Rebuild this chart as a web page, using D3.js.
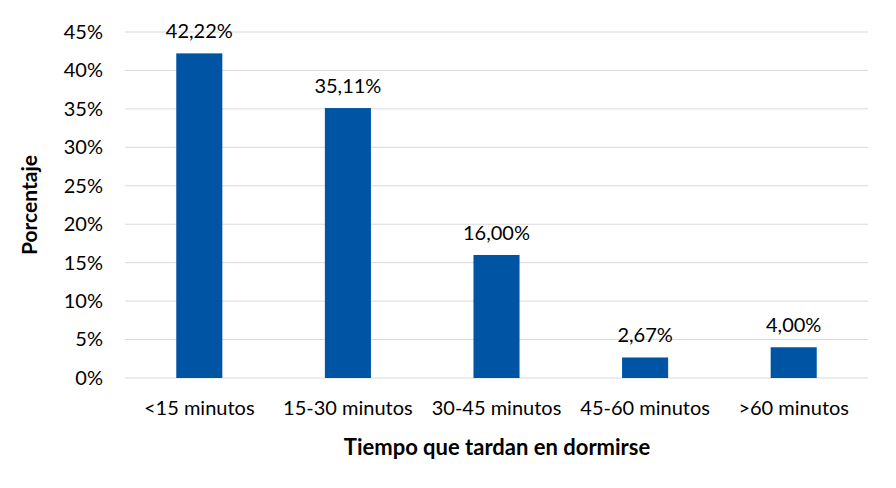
<!DOCTYPE html>
<html><head><meta charset="utf-8">
<script src="https://cdn.jsdelivr.net/npm/d3@7"></script>
<style>body{margin:0;background:#fff}svg{font-family:Lato,"Open Sans",sans-serif}</style>
</head><body><svg id="c" width="896" height="488"></svg>
<script>
const categories = ["<15 minutos","15-30 minutos","30-45 minutos","45-60 minutos",">60 minutos"];
const values = [42.22, 35.11, 16.00, 2.67, 4.00];
const yTicks = [0,5,10,15,20,25,30,35,40,45];
const yTitle = "Porcentaje";
const xTitle = "Tiempo que tardan en dormirse";

const svg = d3.select("#c");
const x = d3.scaleBand().domain(categories).range([125, 868]).paddingInner(0.69).paddingOuter(0.345);
const y = d3.scaleLinear().domain([0,45]).range([378, 32]);
const fmt = v => v.toFixed(2).replace(".", ",") + "%";
const ff = "Lato,'Open Sans',sans-serif";

svg.append("g").selectAll("line").data(yTicks).join("line")
  .attr("x1",125).attr("x2",868).attr("y1",d=>y(d)).attr("y2",d=>y(d))
  .attr("stroke","#d9d9d9").attr("stroke-width",1);

const yAxis = svg.append("g").attr("transform","translate(125,0)")
  .call(d3.axisLeft(y).tickValues(yTicks).tickFormat(d=>d+"%").tickSize(0).tickPadding(22));
yAxis.select(".domain").remove();
yAxis.selectAll("text").attr("font-size",20).attr("fill","#000").style("font-family",ff);

svg.append("g").selectAll("rect").data(values).join("rect")
  .attr("x",(d,i)=>x(categories[i])).attr("width",x.bandwidth())
  .attr("y",d=>y(d)).attr("height",d=>y(0)-y(d)).attr("fill","#0054a4");

svg.append("g").selectAll("text").data(values).join("text")
  .attr("x",(d,i)=>x(categories[i])+x.bandwidth()/2).attr("y",d=>y(d)-15)
  .attr("text-anchor","middle").attr("font-size",20).attr("fill","#000").text(fmt);

const xAxis = svg.append("g").attr("transform","translate(0,378)")
  .call(d3.axisBottom(x).tickSize(0).tickPadding(23));
xAxis.select(".domain").remove();
xAxis.selectAll("text").attr("font-size",20).attr("fill","#000").style("font-family",ff);

svg.append("text").attr("x",497).attr("y",455).attr("text-anchor","middle")
  .attr("font-size",22).attr("font-weight","bold").text(xTitle);
svg.append("text").attr("transform","translate(37,205) rotate(-90)").attr("text-anchor","middle")
  .attr("font-size",21).attr("font-weight","bold").text(yTitle);
</script></body></html>
